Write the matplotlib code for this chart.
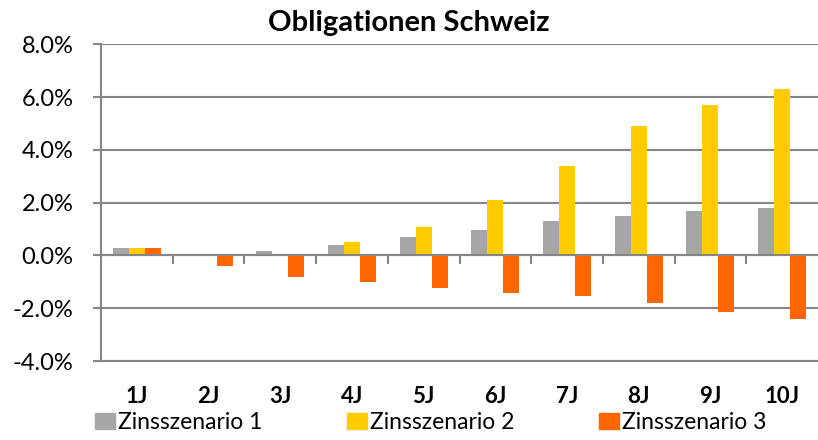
import matplotlib
matplotlib.use("Agg")
import matplotlib.pyplot as plt
import numpy as np
from matplotlib.patches import Patch

GRAY, YELLOW, ORANGE = "#a6a6a6", "#ffcc00", "#ff6600"
AXIS = "#868686"

plt.rcParams.update({"font.family": "Lato"})

jahre = ["1J", "2J", "3J", "4J", "5J", "6J", "7J", "8J", "9J", "10J"]
szenario1 = [0.30, 0.05, 0.18, 0.41, 0.69, 0.98, 1.29, 1.49, 1.69, 1.79]
szenario2 = [0.30, 0.05, 0.05, 0.50, 1.07, 2.09, 3.38, 4.89, 5.70, 6.30]
szenario3 = [0.30, -0.41, -0.83, -1.01, -1.24, -1.42, -1.53, -1.81, -2.13, -2.42]
namen = ["Zinsszenario 1", "Zinsszenario 2", "Zinsszenario 3"]

fig = plt.figure(figsize=(8.18, 4.40), dpi=100)
ax = fig.add_axes([0.1235, 0.1795, 0.8765, 0.72])

x = np.arange(len(jahre))
w = 0.223
for i, (vals, c) in enumerate(zip([szenario1, szenario2, szenario3], [GRAY, YELLOW, ORANGE])):
    ax.bar(x + (i - 1) * w, vals, width=w, color=c, zorder=3)

ax.set_xlim(-0.5, len(jahre) - 0.5)
ax.set_ylim(-4, 8)
ax.set_yticks(np.arange(-4, 8.1, 2))
ax.set_yticklabels([f"{v:.1f}%" for v in np.arange(-4, 8.1, 2)], fontsize=17)
ax.grid(axis="y", color=AXIS, linewidth=1.5, zorder=0)
ax.set_axisbelow(True)

# zero line with category tick marks
ax.axhline(0, color=AXIS, linewidth=1.5, zorder=4)
ax.vlines(np.arange(len(jahre)) - 0.5, 0, -0.32, color=AXIS, linewidth=1.5, zorder=4)

ax.set_xticks(x)
ax.set_xticklabels(jahre, fontsize=16, fontweight="bold")
ax.tick_params(axis="x", length=0, pad=18)
ax.tick_params(axis="y", length=5.8, width=1.5, color=AXIS, pad=14)

for s in ["top", "right"]:
    ax.spines[s].set_visible(False)
ax.spines["left"].set_color(AXIS)
ax.spines["left"].set_linewidth(1.5)
ax.spines["bottom"].set_color(AXIS)
ax.spines["bottom"].set_linewidth(1.5)

fig.text(0.5, 0.948, "Obligationen Schweiz", ha="center", va="center",
         fontsize=21, fontweight="bold")

handles = [Patch(color=c) for c in [GRAY, YELLOW, ORANGE]]
fig.legend(handles, namen, loc="center left", bbox_to_anchor=(0.1165, 0.04), ncol=3,
           frameon=False, fontsize=16.5, handlelength=0.87, handleheight=0.75,
           handletextpad=0.12, columnspacing=3.7, borderaxespad=0, borderpad=0)

fig.savefig("out.png", dpi=100)
